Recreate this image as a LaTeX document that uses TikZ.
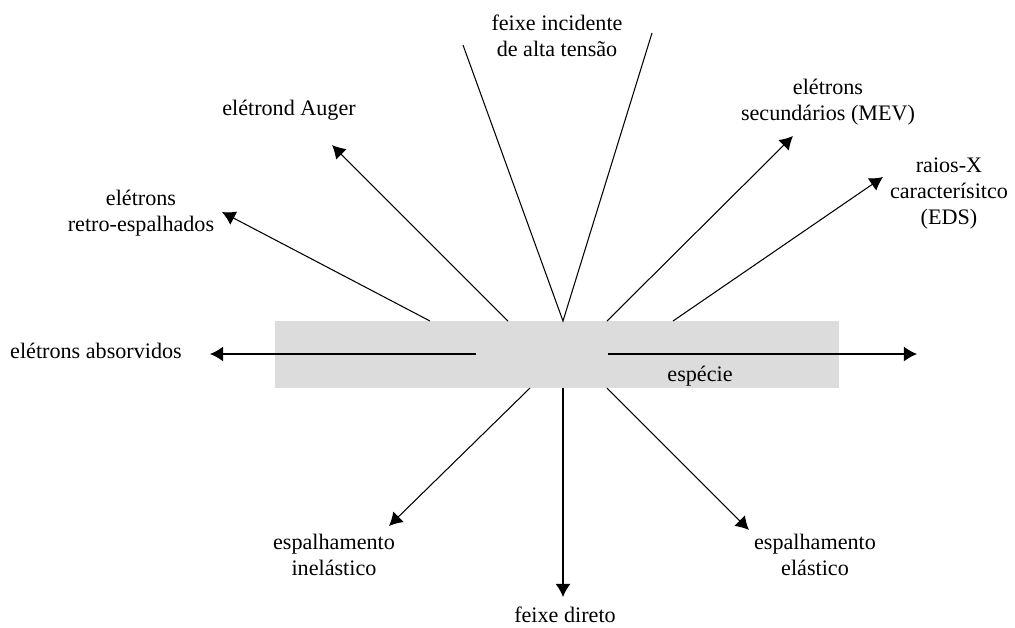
\documentclass[tikz,border=0pt]{standalone}
\usepackage{fontspec}
\setmainfont{Liberation Serif}
\usetikzlibrary{arrows.meta}
\definecolor{amostra}{RGB}{220,220,220}

\begin{document}
\begin{tikzpicture}[x=0.02cm, y=-0.02cm, >={Latex[length=7.5pt,width=8.5pt]}, line width=0.6pt,
    font=\fontsize{12.6}{14.8}\selectfont]
    \useasboundingbox (0,0) rectangle (1015,627);

    % especie (amostra)
    \coordinate (s01) at (275,321);
    \coordinate (s02) at (839,388);

    % pontos de saida na amostra
    \coordinate (p01) at (563,321);
    \coordinate (p02) at (430,321);
    \coordinate (p03) at (508,321);
    \coordinate (p04) at (607,321);
    \coordinate (p05) at (673,321);
    \coordinate (p06) at (476,354);
    \coordinate (p07) at (608,354);
    \coordinate (p08) at (530,388);
    \coordinate (p09) at (563,388);
    \coordinate (p10) at (607,388);

    % extremidades
    \coordinate (e01) at (463,45);
    \coordinate (e02) at (652,33);
    \coordinate (e03) at (222,212);
    \coordinate (e04) at (332,145);
    \coordinate (e05) at (793,136);
    \coordinate (e06) at (883,177);
    \coordinate (e07) at (210,354);
    \coordinate (e08) at (917,354);
    \coordinate (e09) at (389,526);
    \coordinate (e10) at (563,597);
    \coordinate (e11) at (749,530);

    \fill[amostra] (s01) rectangle (s02);

    \draw (e01) -- (p01) -- (e02);
    \draw[->] (p02) -- (e03);
    \draw[->] (p03) -- (e04);
    \draw[->] (p04) -- (e05);
    \draw[->] (p05) -- (e06);
    \draw[->] (p06) -- (e07);
    \draw[->] (p07) -- (e08);
    \draw[->] (p08) -- (e09);
    \draw[->] (p09) -- (e10);
    \draw[->] (p10) -- (e11);

    \node[align=center, inner sep=0] (incidente) at (557,35.5) {feixe incidente\\de alta tensão};
    \node[inner sep=0] (auger) at (289,110) {elétrond Auger};
    \node[align=center, inner sep=0] (retro) at (141,213) {elétrons\\retro-espalhados};
    \node[inner sep=0] (absorvidos) at (96,351) {elétrons absorvidos};
    \node[align=center, inner sep=0] (secundarios) at (828,102) {elétrons\\secundários (MEV)};
    \node[align=center, inner sep=0] (raiosx) at (949,194) {raios-X\\caracterísitco\\(EDS)};
    \node[inner sep=0] (especie) at (700,376) {espécie};
    \node[align=center, inner sep=0] (inelastico) at (334,555) {espalhamento\\inelástico};
    \node[inner sep=0] (direto) at (565,615) {feixe direto};
    \node[align=center, inner sep=0] (elastico) at (815,555) {espalhamento\\elástico};

\end{tikzpicture}
\end{document}
